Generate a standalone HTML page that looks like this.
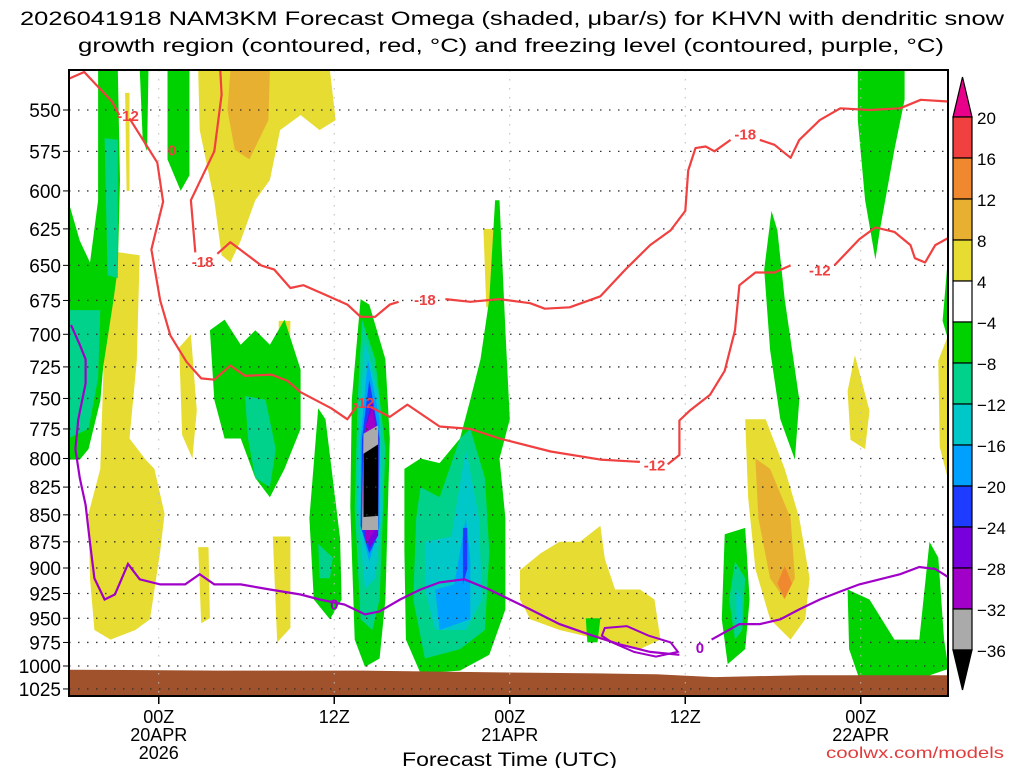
<!DOCTYPE html>
<html><head><meta charset="utf-8"><title>NAM3KM Omega KHVN</title>
<style>html,body{margin:0;padding:0;background:#fff;width:1024px;height:768px;overflow:hidden}svg{display:block}text{font-family:"Liberation Sans",sans-serif;fill:#000}</style></head>
<body>
<svg id="chart" width="1024" height="768" viewBox="0 0 1024 768" xmlns="http://www.w3.org/2000/svg">
<text x="20" y="25" font-size="19" textLength="984" lengthAdjust="spacingAndGlyphs">2026041918 NAM3KM Forecast Omega (shaded, μbar/s) for KHVN with dendritic snow</text>
<text x="78" y="52" font-size="19" textLength="866" lengthAdjust="spacingAndGlyphs">growth region (contoured, red, °C) and freezing level (contoured, purple, °C)</text>
<defs><clipPath id="plotclip"><rect x="69" y="70" width="879" height="626"/></clipPath></defs>
<g id="shading" clip-path="url(#plotclip)"></g>
<g id="ground" clip-path="url(#plotclip)"></g>
<g id="grid"></g>
<g id="contours" clip-path="url(#plotclip)"></g>
<rect x="69" y="70" width="879" height="626" fill="none" stroke="#000" stroke-width="2"/>
<g id="yaxis"></g>
<g id="xaxis"></g>
<text x="402" y="766" font-size="19" textLength="215" lengthAdjust="spacingAndGlyphs">Forecast Time (UTC)</text>
<text x="826" y="758" font-size="16" fill="#e03c3c" style="fill:#e03c3c" textLength="178" lengthAdjust="spacingAndGlyphs">coolwx.com/models</text>
<g id="colorbar"></g>
</svg>
<script>
// ---- data ----
const pressureTicks=[550,575,600,625,650,675,700,725,750,775,800,825,850,875,900,925,950,975,1000,1025];
const timeTickHours=[6,18,30,42,54];
const timeTickLabels=[["00Z","20APR","2026"],["12Z"],["00Z","21APR"],["12Z"],["00Z","22APR"]];
const cbarLabels=["20","16","12","8","4","-4","-8","-12","-16","-20","-24","-28","-32","-36"];
const cbarColors=["#f04040","#f08830","#e8b030","#e6dc32","#ffffff","#00d200","#00d28c","#00c8c8","#00a0ff","#1e3cff","#7800dc","#a000c8","#aaaaaa"];
const levelColor={yellow:"#e6dc32",gold:"#e8b030",orange:"#f08830",green:"#00d200",teal:"#00d28c",cyan:"#00c8c8",lblue:"#00a0ff",blue:"#1e3cff",violet:"#7800dc",purple:"#a000c8",gray:"#aaaaaa",black:"#000000"};
// polygons: [level, [[hour,hPa],...]]
const shadePolys=[
["yellow",[[8.7,527],[17.7,527],[18.1,556],[17,562],[15.7,553],[14.3,562],[13.6,593],[12.6,606],[11.6,633],[10.9,648],[10.3,643],[9.8,606],[8.8,562]]],
["gold",[[10.9,527],[13.6,527],[13.5,556],[12.2,580],[11.2,574],[10.7,550]]],
["yellow",[[3.7,540],[4,540],[4,600],[3.8,600]]],
["yellow",[[1.2,849],[2,809],[2.3,700],[2.6,640],[4.7,643],[4.5,720],[4,783],[5.1,801],[5.7,809],[6.4,849],[6.1,884],[5.4,951],[4.4,962],[2.7,972],[1.6,962],[1.3,910]]],
["yellow",[[7.4,710],[8.2,700],[8.6,760],[8.3,800],[7.6,780]]],
["yellow",[[8.7,880],[9.4,880],[9.5,950],[8.9,955]]],
["yellow",[[14.2,690],[15,690],[14.9,760],[14.3,790]]],
["yellow",[[13.8,870],[15,870],[15,960],[14.1,975]]],
["yellow",[[28.2,625],[28.9,625],[28.8,680],[28.4,680]]],
["yellow",[[30.7,902],[32.1,886],[33.4,875],[34.8,875],[36.2,860],[36.5,891],[37.2,921],[38.9,921],[39.9,931],[40.3,972],[38.9,982],[36.2,972],[33.4,962],[31.4,951],[30.7,931]]],
["yellow",[[46.1,767],[47.5,767],[48.8,809],[49.8,853],[50.5,910],[50.2,951],[49.2,972],[47.8,951],[46.8,901],[46.3,834]]],
["gold",[[46.8,800],[47.8,809],[49.2,853],[49.5,910],[48.8,931],[47.8,910],[47,853]]],
["orange",[[48.8,898],[49.3,915],[48.8,930],[48.3,915]]],
["yellow",[[53.6,716],[54.6,760],[54.3,792],[53.3,784],[53.1,744]]],
["yellow",[[59.3,720],[60,700],[60,820],[59.4,790]]],
["green",[[1.85,526],[3.2,526],[3.35,593],[3.2,652],[2.9,675],[2.2,725],[2,752],[1.2,792],[0.6,801],[-0.2,801],[-0.2,606],[0.6,633],[1.3,648],[1.85,606]]],
["teal",[[2.3,567],[3.2,568],[3.2,659],[2.5,657]]],
["teal",[[-0.2,682],[2,682],[1.85,734],[1.2,775],[-0.2,783]]],
["green",[[4.7,526],[5.3,526],[5.2,575],[4.9,568]]],
["green",[[6.6,526],[8.1,526],[8.1,590],[7.5,600],[6.6,580]]],
["green",[[9.5,697],[10.5,689],[11.6,708],[12.6,697],[13.6,708],[14.6,689],[15.7,727],[15.7,775],[14.6,809],[13.6,834],[12.6,817],[11.6,783],[10.5,783],[9.8,751]]],
["teal",[[11.9,748],[13.3,751],[14,792],[13.6,825],[12.6,817],[12.1,783]]],
["green",[[16.9,758],[17.4,767],[18.4,872],[18.5,931],[17.7,951],[16.6,931],[16.3,853]]],
["teal",[[16.9,877],[17.9,890],[17.7,910],[17,910]]],
["green",[[19.8,674],[20.4,678],[21.5,719],[21.8,783],[21.5,931],[21.1,992],[20.1,1001],[19.4,972],[19.1,843],[19.2,751]]],
["teal",[[19.9,689],[20.8,719],[21.5,792],[21.1,931],[20.6,962],[19.8,951],[19.4,843],[19.6,751]]],
["cyan",[[20.1,704],[21.1,751],[21.3,843],[20.8,910],[20.1,921],[19.6,843],[19.7,767]]],
["lblue",[[20.3,719],[21.1,767],[21.1,860],[20.4,894],[19.8,860],[19.8,783]]],
["blue",[[20.4,735],[21.1,783],[21,869],[20.4,886],[19.8,860],[19.9,783]]],
["violet",[[20.6,751],[21,783],[21,869],[20.4,881],[19.9,843],[20.1,775]]],
["purple",[[20.6,758],[21,783],[20.9,860],[20.2,877],[19.9,834],[20.1,775]]],
["gray",[[20,779],[21,772],[21,864],[19.9,864]]],
["black",[[20,796],[21,788],[21,851],[20,852]]],
["green",[[22.8,809],[23.9,800],[25.2,804],[26.6,783],[27.3,751],[28,719],[28.6,674],[29,606],[29.3,606],[29.7,697],[30,767],[29.3,800],[29.7,853],[29.7,941],[28.6,988],[26.6,1005],[23.9,1008],[22.9,972],[22.8,884]]],
["teal",[[23.9,825],[25.2,834],[26.6,783],[27.3,775],[28.3,817],[28.6,884],[28.3,962],[26.6,982],[24.2,992],[23.4,931],[23.6,853]]],
["cyan",[[24.2,875],[26,870],[27,792],[27.9,853],[28.1,931],[27,962],[24.9,962],[24.2,921]]],
["lblue",[[24.9,921],[26.2,916],[27,853],[27.3,890],[27.3,951],[25.2,962]]],
["blue",[[26.8,862],[27.1,862],[27.1,901],[26.8,916]]],
["green",[[44.7,868],[46.1,862],[46.4,931],[46.1,982],[44.9,998],[44.5,951]]],
["teal",[[45.4,894],[46.1,910],[45.9,962],[45.4,972],[45,931]]],
["cyan",[[45.5,921],[45.9,931],[45.8,956],[45.5,956]]],
["green",[[47.9,613],[48.3,626],[48.8,674],[49.8,751],[49.5,801],[48.5,767],[47.8,712],[47.4,653]]],
["green",[[53.8,527],[57,527],[57,544],[56.3,574],[55.3,626],[55,646],[54.3,606],[53.8,556]]],
["green",[[53.1,921],[54.6,931],[56.3,972],[58,972],[58.7,875],[59.3,890],[59.7,972],[60,1003],[58,1014],[53.9,1014],[53.2,982]]],
["green",[[60,640],[59.6,690],[60,705]]],
["green",[[35.2,950],[36.2,950],[36,975],[35.3,975]]]
];
const surfaceHours=[0,10,20,30,36,40,44,50,56,60];
const surfacePressure=[1004,1005,1005,1007,1008,1009,1012,1010,1010,1010];
const redContours=[
{label:"-12",lh:3.9,lp:553,pts:[[-0.2,532],[0.9,528],[2.8,545],[3.3,553]]},
{label:"",lh:0,lp:0,pts:[[4,555],[5.9,582],[6.3,607],[5.5,639],[6.1,675],[6.8,701],[7.9,721],[8.9,734],[9.8,735],[10.9,724],[11.9,732],[13.7,731],[14.8,736],[15.7,745],[17.8,758],[18.9,767],[19.6,755]]},
{label:"-12",lh:20,lp:753,pts:[[20.5,757],[21.8,765],[23,755],[25.2,773],[27.3,775],[29.3,783],[32.8,794],[36.2,801],[38.9,803]]},
{label:"-12",lh:39.9,lp:805,pts:[[40.8,805],[41.6,797],[41.6,768],[42.3,760],[43.7,747],[44.7,728],[45.4,697],[45.7,664],[46.8,655],[48.1,655],[49.2,650]]},
{label:"-12",lh:51.2,lp:653,pts:[[52.2,650],[53.9,632],[55,624],[56.3,627],[57.4,636],[57.7,645],[58.4,648],[59.1,636],[60,631]]},
{label:"-18",lh:9,lp:647,pts:[[10.2,526],[10.3,541],[9.8,575],[8.2,606],[8.5,641]]},
{label:"",lh:0,lp:0,pts:[[10,642],[10.9,634],[13,650],[13.9,653],[15,666],[15.9,664],[17.4,671],[18.9,678],[19.8,687],[20.8,687],[21.8,678],[22.4,676]]},
{label:"-18",lh:24.2,lp:674,pts:[[25.6,674],[27.3,676],[29.3,674],[31.4,677],[32.4,681],[34.1,680],[36.2,672],[37.9,653],[39.6,636],[41,626],[42,613],[42.2,587],[42.7,573],[43.4,572],[44,575],[45.1,568]]},
{label:"-18",lh:46.1,lp:564,pts:[[47.1,568],[48.1,571],[49.2,579],[49.8,568],[51.2,556],[52.6,549],[54.6,550],[56.7,549],[58.1,544],[60,545]]}
];
const freezingLevel=[[0,693],[0.6,708],[1,719],[1,738],[0.5,767],[0.3,792],[0.6,817],[1,841],[1.3,876],[1.6,910],[2.3,931],[3,926],[3.9,896],[4.7,911],[6.1,916],[7.8,916],[8.8,906],[9.8,916],[11.6,916],[13.6,921],[15.7,926],[17,931],[18.7,936],[20.1,946],[21.1,943],[22.5,931],[23.9,921],[25.2,914],[26.9,911],[28.6,921],[30,931],[31.4,941],[33.4,956],[35.5,967],[37.5,977],[39.6,985],[41.6,988],[43.8,972],[45.7,956],[47.1,956],[48.5,951],[49.8,941],[51.2,931],[52.6,923],[53.9,916],[55.3,911],[56.7,906],[58,899],[59.1,901],[60,909]];
const freezingLoop=[[36.5,960],[38,958],[39.5,968],[41,975],[41.5,985],[40,990],[38.5,985],[37,975],[36.3,968]];
const freezingLabels=[[18,935],[43,980]];

// ---- axes ----
const X=h=>71+14.625*h;
const Y=p=>110+930*Math.log(p/550);
const NS="http://www.w3.org/2000/svg";
function mk(tag,attrs,parent){const e=document.createElementNS(NS,tag);for(const k in attrs)e.setAttribute(k,attrs[k]);parent.appendChild(e);return e;}
const ptsStr=a=>a.map(q=>X(q[0]).toFixed(1)+","+Y(q[1]).toFixed(1)).join(" ");

const gShade=document.getElementById("shading");
shadePolys.forEach((s,i)=>{
 const e=mk("polygon",{points:ptsStr(s[1]),fill:levelColor[s[0]]},gShade);
 
 
});
const gGround=document.getElementById("ground");
{const top=surfaceHours.map((h,i)=>[h,surfacePressure[i]]);
 const poly=top.concat([[62,1100],[-2,1100]]);
 const e=mk("polygon",{points:ptsStr([[-2,surfacePressure[0]]].concat(poly)),fill:"#a0522d"},gGround);
 
 }

const gGrid=document.getElementById("grid");
pressureTicks.forEach(p=>{
 const e=mk("line",{x1:69,x2:948,y1:Y(p),y2:Y(p),stroke:"#333","stroke-width":1.3,"stroke-dasharray":"1.5 7.5"},gGrid);
 
 
});
timeTickHours.forEach(h=>{
 const e=mk("line",{x1:X(h),x2:X(h),y1:70,y2:696,stroke:"#bbb","stroke-width":1,"stroke-dasharray":"1.5 7.5"},gGrid);
 
 
});

const gY=document.getElementById("yaxis");
pressureTicks.forEach(p=>{
 mk("line",{x1:63,x2:69,y1:Y(p),y2:Y(p),stroke:"#000","stroke-width":1},gY);
 const t=mk("text",{x:61,y:Y(p)+7,"font-size":19,"text-anchor":"end"},gY);
 t.textContent=p;
 
 
});
const gX=document.getElementById("xaxis");
timeTickHours.forEach((h,i)=>{
 mk("line",{x1:X(h),x2:X(h),y1:696,y2:704,stroke:"#000","stroke-width":1.5},gX);
 timeTickLabels[i].forEach((s,j)=>{
  const t=mk("text",{x:X(h),y:723+j*18,"font-size":18,"text-anchor":"middle"},gX);
  t.textContent=s;
  
  
 });
});

const gC=document.getElementById("contours");
function labelAt(h,p,txt,col,par){
 const t=mk("text",{x:X(h),y:Y(p)+6,"font-size":15,"font-weight":"bold","text-anchor":"middle",style:"fill:"+col},par);
 t.textContent=txt;
 
 
}
redContours.forEach(c=>{
 const e=mk("polyline",{points:ptsStr(c.pts),fill:"none",stroke:"#f04040","stroke-width":2.2,"stroke-linejoin":"round"},gC);
 
 
 if(c.label)labelAt(c.lh,c.lp,c.label,"#f04040",gC);
});
labelAt(6.9,574,"0","#f04040",gC);
{const e=mk("polyline",{points:ptsStr(freezingLevel.slice(0,37)),fill:"none",stroke:"#a000c8","stroke-width":2.2},gC);
 
 
 const e2=mk("polyline",{points:ptsStr(freezingLevel.slice(37)),fill:"none",stroke:"#a000c8","stroke-width":2.2},gC);
 
 
 const e3=mk("polygon",{points:ptsStr(freezingLoop),fill:"none",stroke:"#a000c8","stroke-width":2},gC);
 
 }
freezingLabels.forEach(l=>labelAt(l[0],l[1],"0","#a000c8",gC));

const gB=document.getElementById("colorbar");
const cbx=953,cbw=19,cbTop=117,cbStep=41;
{const e=mk("polygon",{points:`${cbx},${cbTop} ${cbx+cbw},${cbTop} ${cbx+cbw/2},${cbTop-40}`,fill:"#e8008a",stroke:"#000","stroke-width":1.2},gB);
 
 }
cbarColors.forEach((c,i)=>{
 const e=mk("rect",{x:cbx,y:cbTop+i*cbStep,width:cbw,height:cbStep,fill:c,stroke:"#000","stroke-width":1.2},gB);
 
 
});
{const yb=cbTop+cbarColors.length*cbStep;
 const e=mk("polygon",{points:`${cbx},${yb} ${cbx+cbw},${yb} ${cbx+cbw/2},${yb+40}`,fill:"#000",stroke:"#000","stroke-width":1.2},gB);
 
 }
cbarLabels.forEach((s,i)=>{
 const t=mk("text",{x:977,y:cbTop+i*cbStep+7,"font-size":17},gB);
 t.textContent=s.replace("-","\u2212");
 
 
});
</script>
</body></html>
